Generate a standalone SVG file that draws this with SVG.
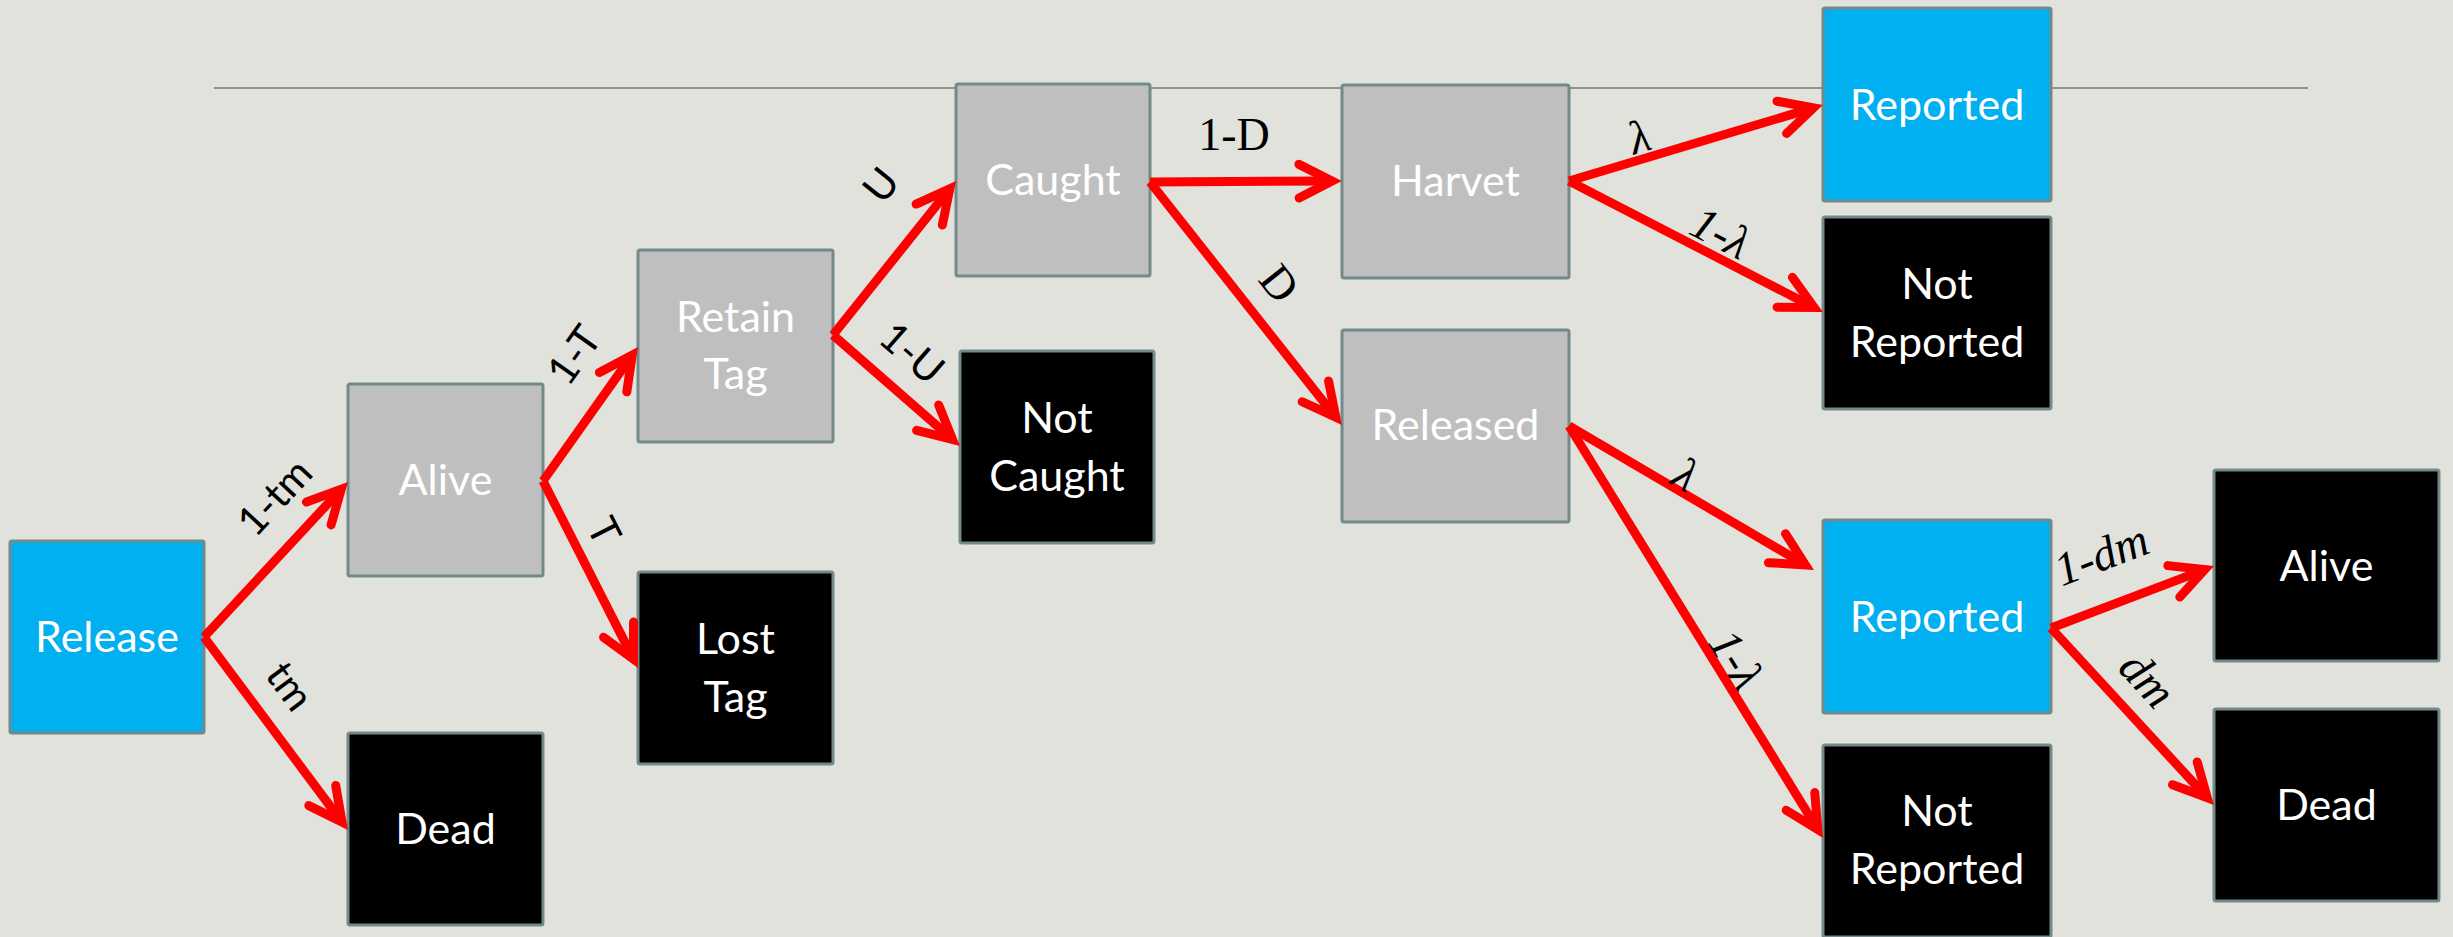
<svg xmlns="http://www.w3.org/2000/svg" width="2453" height="937" viewBox="0 0 2453 937">
  <defs>
    <style>
      .box { stroke: #728a8a; stroke-width: 3; }
      .grey { fill: #bfbfbf; }
      .blue { fill: #00b0f0; }
      .black { fill: #000000; }
      .name { font-family: Lato, "Open Sans", sans-serif; font-size: 43px; fill: #ffffff; text-anchor: middle; }
      .edge { fill: none; stroke: #ff0000; stroke-width: 9; stroke-linecap: butt; marker-end: url(#head); }
      .p-sans { font-family: Lato, "Open Sans", sans-serif; font-size: 41px; fill: #000000; text-anchor: middle; }
      .p-serif { font-family: "Liberation Serif", "Times New Roman", serif; font-size: 46px; fill: #000000; text-anchor: middle; }
      .p-math { font-family: "Liberation Serif", "Times New Roman", serif; font-style: italic; font-size: 47px; fill: #000000; text-anchor: middle; }
    </style>
    <marker id="head" markerUnits="userSpaceOnUse" orient="auto" overflow="visible" markerWidth="60" markerHeight="60" refX="0" refY="0">
      <path d="M-33,-16.8 L0,0 L-33,16.8" fill="none" stroke="#ff0000" stroke-width="9" stroke-linecap="round" stroke-linejoin="miter"/>
    </marker>
  </defs>

  <rect width="2453" height="937" fill="#e1e2dc"/>
  <line x1="214" y1="88" x2="2308" y2="88" stroke="#8c9490" stroke-width="2"/>

  <g id="n-release"><rect class="box blue" x="10" y="541" width="194" height="192" rx="2"/><text class="name" x="107" y="652">Release</text></g>
  <g id="n-alive"><rect class="box grey" x="348" y="384" width="195" height="192" rx="2"/><text class="name" x="445.5" y="495">Alive</text></g>
  <g id="n-dead"><rect class="box black" x="348" y="733" width="195" height="192" rx="2"/><text class="name" x="445.5" y="844">Dead</text></g>
  <g id="n-retain-tag"><rect class="box grey" x="638" y="250" width="195" height="192" rx="2"/><text class="name" x="735.5" y="332">Retain</text><text class="name" x="735.5" y="389">Tag</text></g>
  <g id="n-lost-tag"><rect class="box black" x="638" y="572" width="195" height="192" rx="2"/><text class="name" x="735.5" y="654">Lost</text><text class="name" x="735.5" y="712">Tag</text></g>
  <g id="n-caught"><rect class="box grey" x="956" y="84" width="194" height="192" rx="2"/><text class="name" x="1053" y="195">Caught</text></g>
  <g id="n-not-caught"><rect class="box black" x="960" y="351" width="194" height="192" rx="2"/><text class="name" x="1057" y="433">Not</text><text class="name" x="1057" y="491">Caught</text></g>
  <g id="n-harvet"><rect class="box grey" x="1342" y="85" width="227" height="193" rx="2"/><text class="name" x="1455.5" y="196">Harvet</text></g>
  <g id="n-released"><rect class="box grey" x="1342" y="330" width="227" height="192" rx="2"/><text class="name" x="1455.5" y="440">Released</text></g>
  <g id="n-reported-h"><rect class="box blue" x="1823" y="8" width="228" height="193" rx="2"/><text class="name" x="1937" y="120">Reported</text></g>
  <g id="n-not-reported-h"><rect class="box black" x="1823" y="217" width="228" height="192" rx="2"/><text class="name" x="1937" y="299">Not</text><text class="name" x="1937" y="357">Reported</text></g>
  <g id="n-reported-r"><rect class="box blue" x="1823" y="520" width="228" height="193" rx="2"/><text class="name" x="1937" y="632">Reported</text></g>
  <g id="n-not-reported-r"><rect class="box black" x="1823" y="745" width="228" height="192" rx="2"/><text class="name" x="1937" y="826">Not</text><text class="name" x="1937" y="884">Reported</text></g>
  <g id="n-alive-r"><rect class="box black" x="2214" y="470" width="225" height="191" rx="2"/><text class="name" x="2326.5" y="581">Alive</text></g>
  <g id="n-dead-r"><rect class="box black" x="2214" y="709" width="225" height="192" rx="2"/><text class="name" x="2326.5" y="820">Dead</text></g>

  <g id="connectors">
    <path class="edge" d="M204,637 L341.2,489.3"/>
    <path class="edge" d="M204,637 L342,822"/>
    <path class="edge" d="M543,481 L632.2,355.2"/>
    <path class="edge" d="M543,481 L633.5,659.1"/>
    <path class="edge" d="M833,335 L949.8,188.8"/>
    <path class="edge" d="M833,335 L952.5,439.4"/>
    <path class="edge" d="M1150,182 L1332,181"/>
    <path class="edge" d="M1150,182 L1335.8,417.2"/>
    <path class="edge" d="M1569,181 L1813.4,107.9"/>
    <path class="edge" d="M1569,181 L1814.1,307.4"/>
    <path class="edge" d="M1569,426 L1805.4,564.9"/>
    <path class="edge" d="M1569,426 L1817.8,829.5"/>
    <path class="edge" d="M2051,628 L2204.7,569.6"/>
    <path class="edge" d="M2051,628 L2207.2,797.6"/>

    <g id="edge-labels">
      <text class="p-sans" transform="translate(274.5,497) rotate(-47)" dy="0.35em">1-tm</text>
      <text class="p-sans" transform="translate(290,686) rotate(53.3)" dy="0.35em">tm</text>
      <text class="p-sans" transform="translate(574,355) rotate(-54.7)" dy="0.35em">1-T</text>
      <text class="p-sans" transform="translate(604,531) rotate(63)" dy="0.35em">T</text>
      <text class="p-sans" transform="translate(881,185) rotate(-51.4)" dy="0.35em">U</text>
      <text class="p-sans" transform="translate(912,353) rotate(41.2)" dy="0.35em">1-U</text>
      <text class="p-serif" x="1234" y="150">1-D</text>
      <text class="p-serif" transform="translate(1280,283) rotate(51.7)" dy="0.35em">D</text>
      <text class="p-math" transform="translate(1639,136) rotate(-16.7)" dy="0.35em">λ</text>
      <text class="p-math" transform="translate(1721,232) rotate(27.3)" dy="0.35em">1-λ</text>
      <text class="p-math" transform="translate(1686,474) rotate(30.4)" dy="0.35em">λ</text>
      <text class="p-math" transform="translate(1737,659) rotate(58.3)" dy="0.35em">1-λ</text>
      <text class="p-math" transform="translate(2101,554) rotate(-20.8)" dy="0.35em">1-dm</text>
      <text class="p-math" transform="translate(2148,679) rotate(47.4)" dy="0.35em">dm</text>
    </g>
  </g>
</svg>
